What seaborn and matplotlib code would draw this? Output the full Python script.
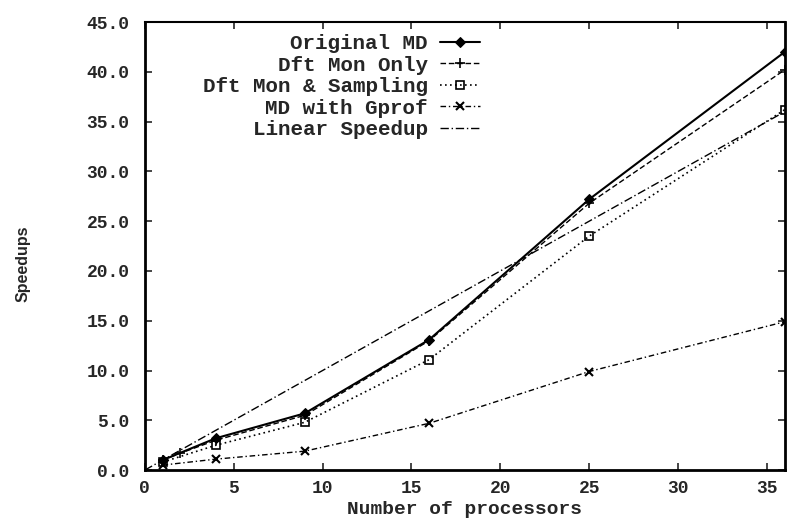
import numpy as np
import pandas as pd
import seaborn as sns
import matplotlib.pyplot as plt

# 数据
procs = [1, 4, 9, 16, 25, 36]
procs_dft = [1, 2, 4, 9, 16, 25, 36]
procs_lin = [0, 1, 4, 9, 16, 25, 36]
original_md = [1.0, 3.2, 5.7, 13.1, 27.2, 42.0]
dft_mon_only = [1.0, 1.7, 3.0, 5.5, 13.0, 26.8, 40.2]
dft_mon_sampling = [0.8, 2.5, 4.8, 11.1, 23.5, 36.2]
md_gprof = [0.5, 1.1, 1.9, 4.7, 9.9, 14.9]
linear_speedup = [0, 1, 4, 9, 16, 25, 36]

sns.set_theme(style='ticks')
plt.rcParams['font.family'] = ['Liberation Mono', 'DejaVu Sans']
plt.rcParams['font.weight'] = 'bold'

fig = plt.figure(figsize=(7.87, 5.27), dpi=100)
ax = fig.add_axes([0.184, 0.108, 0.813, 0.85])

series = [
    ('Original MD', procs, original_md, dict(linestyle='-', marker='D', markersize=5, linewidth=1.5)),
    ('Dft Mon Only', procs_dft, dft_mon_only, dict(linestyle=(0, (4, 2)), marker='+', markersize=7,
                                                   markeredgewidth=1.2, linewidth=1.0)),
    ('Dft Mon & Sampling', procs, dft_mon_sampling, dict(linestyle=(0, (1, 2)), marker='s', markersize=6,
                                                         fillstyle='none', markeredgewidth=1.2, linewidth=1.2)),
    ('MD with Gprof', procs, md_gprof, dict(linestyle=(0, (4, 2, 1, 2)), marker='x', markersize=6,
                                            markeredgewidth=1.5, linewidth=1.0)),
    ('Linear Speedup', procs_lin, linear_speedup, dict(linestyle=(0, (6, 2, 1, 2)), linewidth=1.0)),
]

for name, xs, ys, kw in series:
    df = pd.DataFrame({'x': xs, 'y': ys})
    sns.lineplot(data=df, x='x', y='y', ax=ax, color='black', markeredgecolor='black',
                 label=name, **kw)

ax.set_xlim(0, 36)
ax.set_ylim(0, 45)
ax.set_xticks(np.arange(0, 40, 5))
ax.set_yticks(np.arange(0, 50, 5))
ax.set_yticklabels([f'{v:.1f}' for v in np.arange(0, 50, 5)])
ax.tick_params(direction='in', top=True, right=True, length=5, width=1.2, labelsize=13)
ax.tick_params(axis='y', pad=11)
ax.tick_params(axis='x', pad=7)
for side in ['left', 'bottom', 'right']:
    ax.spines[side].set_linewidth(2.0)
ax.spines['top'].set_linewidth(1.5)
for s in ax.spines.values():
    s.set_color('black')

ax.set_xlabel('Number of processors', fontsize=14, fontweight='bold', labelpad=3)
ax.set_ylabel('Speedups', fontsize=11.5, fontweight='bold', family='Liberation Sans')
ax.yaxis.set_label_coords(-0.178, 0.46)

leg = ax.legend(loc='upper right', bbox_to_anchor=(0.537, 0.992), frameon=False, markerfirst=False,
                fontsize=15, handlelength=1.9, handletextpad=0.6, labelspacing=0.12, borderaxespad=0)
for t in leg.get_texts():
    t.set_ha('right')

plt.savefig('out.png', dpi=100)
